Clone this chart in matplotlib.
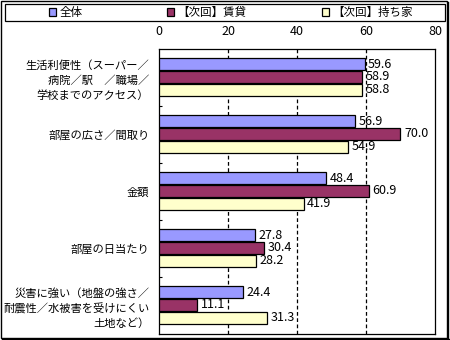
import matplotlib
matplotlib.use("Agg")
import matplotlib.pyplot as plt
from matplotlib.patches import Rectangle
from matplotlib.lines import Line2D
import numpy as np

plt.rcParams['font.family'] = ['Noto Sans CJK JP', 'DejaVu Sans']

categories = [
    "生活利便性（スーパー／\n病院／駅　／職場／\n学校までのアクセス）",
    "部屋の広さ／間取り",
    "金額",
    "部屋の日当たり",
    "災害に強い（地盤の強さ／\n耐震性／水被害を受けにくい\n土地など）",
]
series_names = ["全体", "【次回】賃貸", "【次回】持ち家"]
zentai = [59.6, 56.9, 48.4, 27.8, 24.4]
chintai = [58.9, 70.0, 60.9, 30.4, 11.1]
mochiie = [58.8, 54.9, 41.9, 28.2, 31.3]
xticks = [0, 20, 40, 60, 80]

colors = ["#9999FF", "#993366", "#FFFFCC"]
offsets = [-0.235, -0.01, 0.215]
bar_h = 0.205

W, H = 450, 340
fig = plt.figure(figsize=(W / 100, H / 100), dpi=100)
ax = fig.add_axes([159 / W, 1 - 334 / H, 276 / W, 285 / H])

y = np.arange(len(categories))
handles = []
for vals, col, off, name in zip([zentai, chintai, mochiie], colors, offsets, series_names):
    bars = ax.barh(y + off, vals, height=bar_h, color=col, edgecolor="black",
                   linewidth=0.9, label=name, zorder=3)
    handles.append(bars)
    for yi, v in zip(y, vals):
        ax.annotate(f"{v:.1f}", xy=(v, yi + off), xytext=(2.5, 0),
                    textcoords="offset points", va="center", ha="left",
                    fontsize=9, zorder=4)

ax.set_xlim(0, 80)
ax.set_ylim(len(categories) - 0.5, -0.5)
ax.xaxis.tick_top()
ax.set_xticks(xticks)
ax.set_xticklabels([str(t) for t in xticks], fontsize=9)
ax.tick_params(axis="x", length=0, pad=8)
ax.set_yticks(y)
ax.set_yticklabels(categories, fontsize=8.1, linespacing=1.5, ha="right")
ax.tick_params(axis="y", length=0, pad=7)
ax.set_yticks(np.arange(0.5, len(categories) - 0.5, 1), minor=True)
ax.tick_params(axis="y", which="minor", direction="in", length=2.5, width=0.8)
for t in xticks[1:-1]:
    ax.axvline(t, color="black", linewidth=0.9, linestyle=(0, (3, 2)), zorder=1)
for s in ax.spines.values():
    s.set_linewidth(0.9)
    s.set_color("black")

# Legend frame and entries (one entry per legend, placed in the frame)
fig.patches.append(Rectangle((5 / W, 1 - 21 / H), 440 / W, 17 / H,
                             transform=fig.transFigure, fill=False,
                             edgecolor="black", linewidth=0.9))
legend_x = [49, 167, 322]
for h, name, lx in zip(handles, series_names, legend_x):
    fig.legend(handles=[h], labels=[name], loc="center left",
               bbox_to_anchor=(lx / W, 1 - 12.5 / H),
               frameon=False, fontsize=8.3, handlelength=0.6, handleheight=0.6,
               handletextpad=0.3, borderpad=0.0, borderaxespad=0.0)

# outer border with shadow
fig.patches.append(Rectangle((0.5 / W, 1 - 337.5 / H), 446.5 / W, 337 / H,
                             transform=fig.transFigure, fill=False,
                             edgecolor="black", linewidth=1.0))
fig.lines.append(Line2D([448 / W, 448 / W], [1 - 2 / H, 1 - 339 / H],
                        transform=fig.transFigure, color="black", linewidth=1.0))
fig.lines.append(Line2D([2 / W, 448.5 / W], [1 - 339 / H, 1 - 339 / H],
                        transform=fig.transFigure, color="black", linewidth=1.0))

fig.savefig("out.png", dpi=100)
